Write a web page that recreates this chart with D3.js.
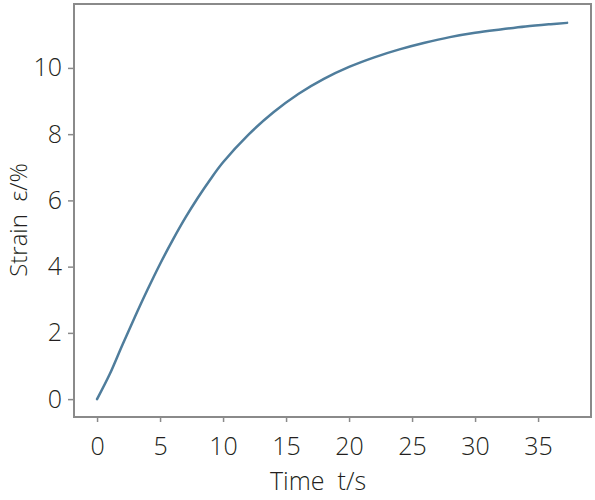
<!DOCTYPE html>
<html>
<head>
<meta charset="utf-8">
<script src="https://cdn.jsdelivr.net/npm/d3@7"></script>
<style>
  body { margin: 0; background: #fff; }
  text { font-family: "Open Sans", sans-serif; font-weight: 300; fill: #231f20; }
</style>
</head>
<body>
<div id="chart"></div>
<script>
// data
const timeValues = [0, 1, 2, 3, 4, 5, 6, 7, 8, 9, 10, 12, 14, 16, 18, 20, 22, 24, 26, 28, 30, 32, 34, 36, 37.3];
const strainValues = [0, 0.75, 1.63, 2.48, 3.3, 4.08, 4.8, 5.47, 6.08, 6.64, 7.15, 7.98, 8.66, 9.22, 9.67, 10.03, 10.32, 10.56, 10.76, 10.93, 11.06, 11.16, 11.25, 11.32, 11.36];
const xTicks = [0, 5, 10, 15, 20, 25, 30, 35];
const yTicks = [0, 2, 4, 6, 8, 10];

const margin = { top: 4, right: 4, bottom: 83, left: 74 },
  width = 595 - margin.left - margin.right,
  height = 500 - margin.top - margin.bottom;

const svg = d3
  .select('#chart')
  .append('svg')
  .attr('width', 595)
  .attr('height', 500)
  .append('g')
  .attr('transform', `translate(${margin.left}, ${margin.top})`);

const x = d3.scaleLinear().domain([-1.83, 39.2]).range([0, width]);
const y = d3.scaleLinear().domain([-0.54, 11.93]).range([height, 0]);

// x axis
const gx = svg
  .append('g')
  .attr('transform', `translate(0, ${height})`)
  .call(d3.axisBottom(x).tickValues(xTicks).tickSize(5).tickPadding(15));

// y axis
const gy = svg
  .append('g')
  .call(d3.axisLeft(y).tickValues(yTicks).tickSize(6).tickPadding(6));

[gx, gy].forEach(g => {
  g.select('.domain').remove();
  g.selectAll('.tick line').attr('stroke', '#8a8a8a').attr('stroke-width', 1.5);
  g.selectAll('.tick text')
    .style('font-family', '"Open Sans", sans-serif')
    .style('font-weight', 300)
    .style('font-size', '25px')
    .attr('fill', '#1e1a1b');
});

// frame
svg
  .append('rect')
  .attr('x', 0)
  .attr('y', 0)
  .attr('width', width)
  .attr('height', height)
  .attr('fill', 'none')
  .attr('stroke', '#8a8a8a')
  .attr('stroke-width', 2);

// curve
const data = timeValues.map((t, i) => ({ t: t, s: strainValues[i] }));
const line = d3
  .line()
  .x(d => x(d.t))
  .y(d => y(d.s))
  .curve(d3.curveCatmullRom);

svg
  .append('path')
  .datum(data)
  .attr('d', line)
  .attr('fill', 'none')
  .attr('stroke', '#4f7d9c')
  .attr('stroke-width', 2.5)
  .attr('stroke-linecap', 'round');

// axis titles
svg
  .append('text')
  .attr('x', 318 - margin.left)
  .attr('y', 490 - margin.top)
  .attr('text-anchor', 'middle')
  .style('font-size', '25px')
  .style('white-space', 'pre')
  .text('Time  t/s');

svg
  .append('text')
  .attr('transform', `translate(${27 - margin.left}, ${220 - margin.top}) rotate(-90)`)
  .attr('text-anchor', 'middle')
  .style('font-size', '24px')
  .style('white-space', 'pre')
  .text('Strain  ε/%');
</script>
</body>
</html>
